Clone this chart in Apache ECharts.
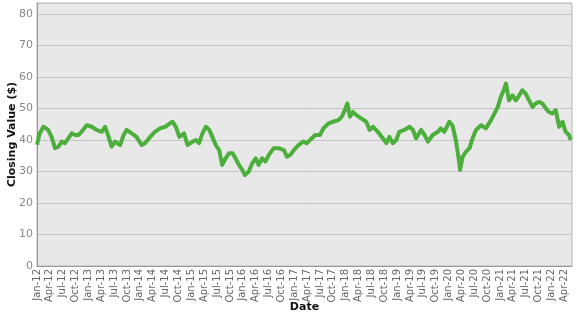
<!DOCTYPE html>
<html><head><meta charset="utf-8">
<script src="https://cdn.jsdelivr.net/npm/echarts@6/dist/echarts.min.js"></script>
<style>html,body{margin:0;padding:0;background:#fff}#c{width:577px;height:315px}</style>
</head><body><div id="c"></div>
<script>
// x positions: months since Jan 2012 (fractional)
const monthsSinceJan2012 = [0,0.6,1.5,2.6,3.4,4.2,5.0,5.8,6.5,7.3,8.1,8.9,9.7,10.4,11.6,12.8,13.9,15.1,15.9,16.7,17.4,18.2,19.4,20.2,20.9,22.1,23.2,24.4,25.2,26.4,27.5,28.7,29.9,31.0,31.6,32.4,33.2,34.3,35.1,36.3,37.1,37.8,38.6,39.4,40.2,40.9,41.7,42.5,43.2,44.0,44.8,45.6,46.3,47.1,47.9,48.5,49.4,50.2,51.0,51.7,52.5,53.3,54.1,55.2,56.4,57.6,58.3,59.1,59.9,61.0,62.1,62.9,63.7,64.9,66.0,66.8,68.0,69.1,70.3,71.1,71.8,72.4,73.0,73.7,74.5,75.7,76.8,77.6,78.4,79.5,80.7,81.5,82.2,83.0,83.8,84.5,85.7,86.9,87.7,88.4,89.6,90.4,91.2,92.3,93.5,94.2,95.0,96.2,96.9,97.7,98.3,98.7,99.3,100.1,100.9,101.6,102.4,103.6,104.7,105.9,106.7,107.5,108.2,109.0,109.4,110.1,110.9,111.7,112.5,113.2,114.0,114.8,115.6,116.3,117.1,117.9,118.7,119.4,120.2,121.0,121.8,122.6,123.3,124.1,124.5];
const closingValues = [38.5,42,44.2,43.2,41,37.4,37.9,39.5,39,40.5,42.1,41.6,41.6,42.6,44.7,44.2,43.2,42.6,44.2,41,37.9,39.5,38.4,41.6,43.2,42.1,41,38.4,39,41,42.6,43.7,44.2,45.3,45.8,44.2,41,42.1,38.4,39.5,40,39,42.1,44.2,43.2,41,38.4,36.8,32.1,34.2,35.8,35.8,34.2,32.1,30.5,28.9,30,32.6,34.2,32.1,34.2,33.2,35.3,37.4,37.4,36.8,34.7,35.3,36.8,38.4,39.5,39,40,41.6,41.6,43.7,45.3,45.8,46.3,47.4,49.5,51.6,47.4,48.9,47.9,46.8,45.8,43.2,44.2,42.6,40.5,39,41,39,40,42.6,43.2,44.2,43.2,40.5,43.2,41.6,39.5,41.6,42.6,43.7,42.6,45.8,44.7,40,34.7,30.5,34.7,36.3,37.4,40.5,43.2,44.7,43.7,46.3,48.4,50.5,53.7,56.3,57.9,52.6,54.2,52.6,54.2,55.8,54.7,52.6,50.5,51.6,52.1,51.6,50,48.9,48.4,49.5,44.2,45.8,42.6,41.6,40];
const monthNames = ['Jan','Feb','Mar','Apr','May','Jun','Jul','Aug','Sep','Oct','Nov','Dec'];
const yTicks = [0,10,20,30,40,50,60,70,80];

const chart = echarts.init(document.getElementById('c'));
chart.setOption({
  animation:false,
  grid:{left:37,right:5,top:3,bottom:49,outerBoundsMode:'none',containLabel:false,show:true,backgroundColor:'#e8e8e8',borderColor:'#b4b4b4',borderWidth:1},
  xAxis:{type:'value',min:0,max:124.8,interval:3,
    name:'Date',nameLocation:'middle',nameGap:36,nameMoveOverlap:false,
    nameTextStyle:{fontWeight:'bold',fontSize:11,color:'#111',fontFamily:'DejaVu Sans'},
    axisLine:{show:true,lineStyle:{color:'#999'}},axisTick:{show:false},splitLine:{show:false},
    axisLabel:{rotate:90,fontSize:10,color:'#666',margin:3,fontFamily:'DejaVu Sans',showMaxLabel:false,
      formatter:v=>{const m=Math.round(v);return monthNames[m%12]+'-'+String(12+Math.floor(m/12));}}},
  yAxis:{type:'value',min:0,max:83.5,interval:10,
    name:'Closing Value ($)',nameLocation:'middle',nameGap:19,nameRotate:90,nameMoveOverlap:false,
    nameTextStyle:{fontWeight:'bold',fontSize:11,color:'#111',fontFamily:'DejaVu Sans'},
    axisLine:{show:true,lineStyle:{color:'#999'}},axisTick:{show:false},
    splitLine:{lineStyle:{color:'#c4c4c4',width:1}},
    axisLabel:{fontSize:11,color:'#888',margin:4,fontFamily:'DejaVu Sans',showMaxLabel:false,
      formatter:v=>yTicks.includes(v)?String(v):''}},
  series:[{type:'line',showSymbol:false,data:monthsSinceJan2012.map((m,i)=>[m,closingValues[i]]),
    lineStyle:{color:'#4caf3c',width:4,join:'round'},itemStyle:{color:'#4caf3c'}}]
});
</script></body></html>
